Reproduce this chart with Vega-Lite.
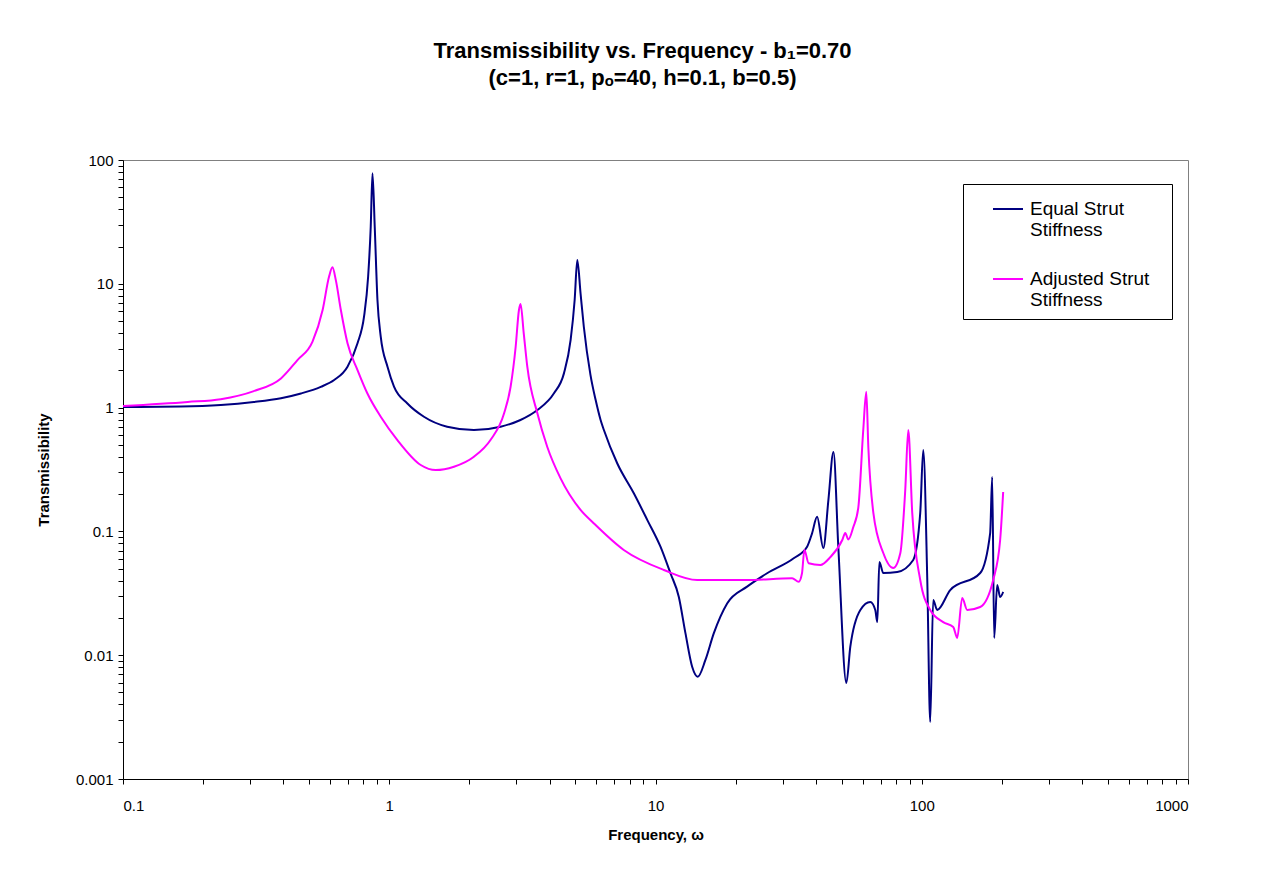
{
  "$schema": "https://vega.github.io/schema/vega-lite/v6.json",
  "width": 1065,
  "height": 619,
  "autosize": {"type": "none"},
  "padding": {"left": 123, "top": 160, "right": 96, "bottom": 97},
  "background": "white",
  "title": {
    "text": ["Transmissibility vs. Frequency - b₁=0.70", "(c=1, r=1, pₒ=40, h=0.1, b=0.5)"],
    "font": "Liberation Sans",
    "fontSize": 22,
    "fontWeight": "bold",
    "color": "black",
    "lineHeight": 27,
    "anchor": "middle",
    "dx": -13,
    "offset": 63
  },
  "config": {
    "view": {"stroke": "#808080", "strokeWidth": 1},
    "axis": {
      "labelFont": "Liberation Sans",
      "titleFont": "Liberation Sans",
      "labelFontSize": 15,
      "titleFontSize": 15,
      "titleFontWeight": "bold",
      "labelColor": "black",
      "titleColor": "black",
      "domainColor": "black",
      "tickColor": "black",
      "grid": false,
      "tickSize": 5
    }
  },
  "data": {
    "values": [
      {"series": "Equal Strut Stiffness", "w": 0.1, "T": 1.01},
      {"series": "Equal Strut Stiffness", "w": 0.165, "T": 1.02},
      {"series": "Equal Strut Stiffness", "w": 0.233, "T": 1.05},
      {"series": "Equal Strut Stiffness", "w": 0.31, "T": 1.11},
      {"series": "Equal Strut Stiffness", "w": 0.392, "T": 1.19},
      {"series": "Equal Strut Stiffness", "w": 0.466, "T": 1.3},
      {"series": "Equal Strut Stiffness", "w": 0.553, "T": 1.47},
      {"series": "Equal Strut Stiffness", "w": 0.621, "T": 1.67},
      {"series": "Equal Strut Stiffness", "w": 0.697, "T": 2.14},
      {"series": "Equal Strut Stiffness", "w": 0.76, "T": 3.31},
      {"series": "Equal Strut Stiffness", "w": 0.804, "T": 5.42},
      {"series": "Equal Strut Stiffness", "w": 0.833, "T": 11.4},
      {"series": "Equal Strut Stiffness", "w": 0.852, "T": 28.9},
      {"series": "Equal Strut Stiffness", "w": 0.865, "T": 78},
      {"series": "Equal Strut Stiffness", "w": 0.882, "T": 28.9},
      {"series": "Equal Strut Stiffness", "w": 0.903, "T": 7.4},
      {"series": "Equal Strut Stiffness", "w": 0.929, "T": 3.74},
      {"series": "Equal Strut Stiffness", "w": 0.985, "T": 2.14},
      {"series": "Equal Strut Stiffness", "w": 1.042, "T": 1.48},
      {"series": "Equal Strut Stiffness", "w": 1.17, "T": 1.08},
      {"series": "Equal Strut Stiffness", "w": 1.35, "T": 0.844},
      {"series": "Equal Strut Stiffness", "w": 1.65, "T": 0.701},
      {"series": "Equal Strut Stiffness", "w": 2.08, "T": 0.659},
      {"series": "Equal Strut Stiffness", "w": 2.62, "T": 0.701},
      {"series": "Equal Strut Stiffness", "w": 3.11, "T": 0.794},
      {"series": "Equal Strut Stiffness", "w": 3.6, "T": 0.956},
      {"series": "Equal Strut Stiffness", "w": 4.15, "T": 1.3},
      {"series": "Equal Strut Stiffness", "w": 4.53, "T": 1.89},
      {"series": "Equal Strut Stiffness", "w": 4.8, "T": 3.52},
      {"series": "Equal Strut Stiffness", "w": 4.97, "T": 7.4},
      {"series": "Equal Strut Stiffness", "w": 5.085, "T": 15.6},
      {"series": "Equal Strut Stiffness", "w": 5.23, "T": 8.38},
      {"series": "Equal Strut Stiffness", "w": 5.38, "T": 4.5},
      {"series": "Equal Strut Stiffness", "w": 5.7, "T": 1.83},
      {"series": "Equal Strut Stiffness", "w": 5.96, "T": 1.15},
      {"series": "Equal Strut Stiffness", "w": 6.22, "T": 0.794},
      {"series": "Equal Strut Stiffness", "w": 6.4, "T": 0.659},
      {"series": "Equal Strut Stiffness", "w": 7.18, "T": 0.355},
      {"series": "Equal Strut Stiffness", "w": 8.29, "T": 0.203},
      {"series": "Equal Strut Stiffness", "w": 9.31, "T": 0.124},
      {"series": "Equal Strut Stiffness", "w": 10.44, "T": 0.0752},
      {"series": "Equal Strut Stiffness", "w": 11.38, "T": 0.0459},
      {"series": "Equal Strut Stiffness", "w": 12.23, "T": 0.0297},
      {"series": "Equal Strut Stiffness", "w": 12.96, "T": 0.015},
      {"series": "Equal Strut Stiffness", "w": 13.73, "T": 0.00807},
      {"series": "Equal Strut Stiffness", "w": 14.41, "T": 0.0067},
      {"series": "Equal Strut Stiffness", "w": 15.4, "T": 0.00915},
      {"series": "Equal Strut Stiffness", "w": 16.55, "T": 0.015},
      {"series": "Equal Strut Stiffness", "w": 18.58, "T": 0.0262},
      {"series": "Equal Strut Stiffness", "w": 22.08, "T": 0.0358},
      {"series": "Equal Strut Stiffness", "w": 26.25, "T": 0.0459},
      {"series": "Equal Strut Stiffness", "w": 33.04, "T": 0.0606},
      {"series": "Equal Strut Stiffness", "w": 37.1, "T": 0.0752},
      {"series": "Equal Strut Stiffness", "w": 38.73, "T": 0.0965},
      {"series": "Equal Strut Stiffness", "w": 40.45, "T": 0.1315},
      {"series": "Equal Strut Stiffness", "w": 42.7, "T": 0.0734},
      {"series": "Equal Strut Stiffness", "w": 44.6, "T": 0.179},
      {"series": "Equal Strut Stiffness", "w": 46.6, "T": 0.438},
      {"series": "Equal Strut Stiffness", "w": 48.6, "T": 0.0748},
      {"series": "Equal Strut Stiffness", "w": 52.1, "T": 0.00596},
      {"series": "Equal Strut Stiffness", "w": 53.9, "T": 0.01165},
      {"series": "Equal Strut Stiffness", "w": 58.8, "T": 0.0232},
      {"series": "Equal Strut Stiffness", "w": 64.1, "T": 0.0269},
      {"series": "Equal Strut Stiffness", "w": 66.9, "T": 0.0232},
      {"series": "Equal Strut Stiffness", "w": 68.1, "T": 0.0185},
      {"series": "Equal Strut Stiffness", "w": 69.3, "T": 0.0566},
      {"series": "Equal Strut Stiffness", "w": 71.7, "T": 0.0461},
      {"series": "Equal Strut Stiffness", "w": 80.9, "T": 0.047},
      {"series": "Equal Strut Stiffness", "w": 92.9, "T": 0.0588},
      {"series": "Equal Strut Stiffness", "w": 98.7, "T": 0.141},
      {"series": "Equal Strut Stiffness", "w": 101.3, "T": 0.455},
      {"series": "Equal Strut Stiffness", "w": 104.9, "T": 0.0405},
      {"series": "Equal Strut Stiffness", "w": 107.6, "T": 0.00289},
      {"series": "Equal Strut Stiffness", "w": 110.4, "T": 0.0279},
      {"series": "Equal Strut Stiffness", "w": 114.3, "T": 0.0232},
      {"series": "Equal Strut Stiffness", "w": 127.9, "T": 0.0336},
      {"series": "Equal Strut Stiffness", "w": 165.8, "T": 0.0461},
      {"series": "Equal Strut Stiffness", "w": 180.7, "T": 0.097},
      {"series": "Equal Strut Stiffness", "w": 183.9, "T": 0.275},
      {"series": "Equal Strut Stiffness", "w": 187.1, "T": 0.0138},
      {"series": "Equal Strut Stiffness", "w": 192.0, "T": 0.0369},
      {"series": "Equal Strut Stiffness", "w": 197.0, "T": 0.0295},
      {"series": "Equal Strut Stiffness", "w": 202.2, "T": 0.0324},
      {"series": "Adjusted Strut Stiffness", "w": 0.1, "T": 1.03},
      {"series": "Adjusted Strut Stiffness", "w": 0.175, "T": 1.11},
      {"series": "Adjusted Strut Stiffness", "w": 0.233, "T": 1.17},
      {"series": "Adjusted Strut Stiffness", "w": 0.31, "T": 1.36},
      {"series": "Adjusted Strut Stiffness", "w": 0.392, "T": 1.72},
      {"series": "Adjusted Strut Stiffness", "w": 0.452, "T": 2.42},
      {"series": "Adjusted Strut Stiffness", "w": 0.515, "T": 3.41},
      {"series": "Adjusted Strut Stiffness", "w": 0.562, "T": 6.14},
      {"series": "Adjusted Strut Stiffness", "w": 0.594, "T": 11.4},
      {"series": "Adjusted Strut Stiffness", "w": 0.612, "T": 13.6},
      {"series": "Adjusted Strut Stiffness", "w": 0.63, "T": 10.7},
      {"series": "Adjusted Strut Stiffness", "w": 0.658, "T": 6.14},
      {"series": "Adjusted Strut Stiffness", "w": 0.697, "T": 3.31},
      {"series": "Adjusted Strut Stiffness", "w": 0.76, "T": 2.01},
      {"series": "Adjusted Strut Stiffness", "w": 0.828, "T": 1.3},
      {"series": "Adjusted Strut Stiffness", "w": 0.929, "T": 0.844},
      {"series": "Adjusted Strut Stiffness", "w": 1.073, "T": 0.547},
      {"series": "Adjusted Strut Stiffness", "w": 1.313, "T": 0.344},
      {"series": "Adjusted Strut Stiffness", "w": 1.494, "T": 0.313},
      {"series": "Adjusted Strut Stiffness", "w": 1.75, "T": 0.333},
      {"series": "Adjusted Strut Stiffness", "w": 2.08, "T": 0.401},
      {"series": "Adjusted Strut Stiffness", "w": 2.4, "T": 0.547},
      {"series": "Adjusted Strut Stiffness", "w": 2.7, "T": 0.899},
      {"series": "Adjusted Strut Stiffness", "w": 2.857, "T": 1.48},
      {"series": "Adjusted Strut Stiffness", "w": 2.984, "T": 3.1},
      {"series": "Adjusted Strut Stiffness", "w": 3.07, "T": 6.14},
      {"series": "Adjusted Strut Stiffness", "w": 3.113, "T": 6.87},
      {"series": "Adjusted Strut Stiffness", "w": 3.2, "T": 3.98},
      {"series": "Adjusted Strut Stiffness", "w": 3.3, "T": 2.14},
      {"series": "Adjusted Strut Stiffness", "w": 3.6, "T": 0.899},
      {"series": "Adjusted Strut Stiffness", "w": 3.92, "T": 0.483},
      {"series": "Adjusted Strut Stiffness", "w": 4.4, "T": 0.268},
      {"series": "Adjusted Strut Stiffness", "w": 5.23, "T": 0.149},
      {"series": "Adjusted Strut Stiffness", "w": 5.87, "T": 0.116},
      {"series": "Adjusted Strut Stiffness", "w": 7.6, "T": 0.0708},
      {"series": "Adjusted Strut Stiffness", "w": 10.75, "T": 0.0488},
      {"series": "Adjusted Strut Stiffness", "w": 14.34, "T": 0.0405},
      {"series": "Adjusted Strut Stiffness", "w": 22.08, "T": 0.0405},
      {"series": "Adjusted Strut Stiffness", "w": 32.6, "T": 0.0418},
      {"series": "Adjusted Strut Stiffness", "w": 34.5, "T": 0.0392},
      {"series": "Adjusted Strut Stiffness", "w": 35.5, "T": 0.0459},
      {"series": "Adjusted Strut Stiffness", "w": 36.24, "T": 0.0708},
      {"series": "Adjusted Strut Stiffness", "w": 37.6, "T": 0.0553},
      {"series": "Adjusted Strut Stiffness", "w": 41.6, "T": 0.0535},
      {"series": "Adjusted Strut Stiffness", "w": 45.4, "T": 0.0621},
      {"series": "Adjusted Strut Stiffness", "w": 50.3, "T": 0.0852},
      {"series": "Adjusted Strut Stiffness", "w": 51.6, "T": 0.097},
      {"series": "Adjusted Strut Stiffness", "w": 53.0, "T": 0.086},
      {"series": "Adjusted Strut Stiffness", "w": 55.3, "T": 0.108},
      {"series": "Adjusted Strut Stiffness", "w": 57.8, "T": 0.157},
      {"series": "Adjusted Strut Stiffness", "w": 60.3, "T": 0.659},
      {"series": "Adjusted Strut Stiffness", "w": 61.9, "T": 1.34},
      {"series": "Adjusted Strut Stiffness", "w": 63.0, "T": 0.481},
      {"series": "Adjusted Strut Stiffness", "w": 65.8, "T": 0.141},
      {"series": "Adjusted Strut Stiffness", "w": 71.7, "T": 0.0669},
      {"series": "Adjusted Strut Stiffness", "w": 78.2, "T": 0.0506},
      {"series": "Adjusted Strut Stiffness", "w": 83.1, "T": 0.0669},
      {"series": "Adjusted Strut Stiffness", "w": 86.7, "T": 0.216},
      {"series": "Adjusted Strut Stiffness", "w": 89.0, "T": 0.659},
      {"series": "Adjusted Strut Stiffness", "w": 92.1, "T": 0.141},
      {"series": "Adjusted Strut Stiffness", "w": 98.7, "T": 0.0405},
      {"series": "Adjusted Strut Stiffness", "w": 107.6, "T": 0.0232},
      {"series": "Adjusted Strut Stiffness", "w": 120.4, "T": 0.0185},
      {"series": "Adjusted Strut Stiffness", "w": 131.3, "T": 0.0169},
      {"series": "Adjusted Strut Stiffness", "w": 135.9, "T": 0.0138},
      {"series": "Adjusted Strut Stiffness", "w": 141.9, "T": 0.029},
      {"series": "Adjusted Strut Stiffness", "w": 148.2, "T": 0.0232},
      {"series": "Adjusted Strut Stiffness", "w": 165.8, "T": 0.0245},
      {"series": "Adjusted Strut Stiffness", "w": 185.5, "T": 0.0405},
      {"series": "Adjusted Strut Stiffness", "w": 197.0, "T": 0.0852},
      {"series": "Adjusted Strut Stiffness", "w": 202.2, "T": 0.208}
    ]
  },
  "mark": {"type": "line", "strokeWidth": 2, "interpolate": "monotone"},
  "encoding": {
    "x": {
      "field": "w",
      "type": "quantitative",
      "scale": {"type": "log", "domain": [0.1, 1000], "nice": false},
      "axis": {
        "title": "Frequency, ω",
        "titlePadding": 14,
        "labelPadding": 14,
        "format": "~g",
        "values": [0.1, 0.2, 0.3, 0.4, 0.5, 0.6, 0.7, 0.8, 0.9, 1, 2, 3, 4, 5, 6, 7, 8, 9, 10, 20, 30, 40, 50, 60, 70, 80, 90, 100, 200, 300, 400, 500, 600, 700, 800, 900, 1000],
        "labelExpr": "abs(log(datum.value)/LN10 - round(log(datum.value)/LN10)) < 0.000001 ? datum.label : ''"
      }
    },
    "y": {
      "field": "T",
      "type": "quantitative",
      "scale": {"type": "log", "domain": [0.001, 100], "nice": false},
      "axis": {
        "title": "Transmissibility",
        "titlePadding": 24,
        "labelPadding": 5,
        "format": "~g",
        "values": [0.001, 0.002, 0.003, 0.004, 0.005, 0.006, 0.007, 0.008, 0.009, 0.01, 0.02, 0.03, 0.04, 0.05, 0.06, 0.07, 0.08, 0.09, 0.1, 0.2, 0.3, 0.4, 0.5, 0.6, 0.7, 0.8, 0.9, 1, 2, 3, 4, 5, 6, 7, 8, 9, 10, 20, 30, 40, 50, 60, 70, 80, 90, 100],
        "labelExpr": "abs(log(datum.value)/LN10 - round(log(datum.value)/LN10)) < 0.000001 ? datum.label : ''"
      }
    },
    "color": {
      "field": "series",
      "type": "nominal",
      "scale": {"domain": ["Equal Strut Stiffness", "Adjusted Strut Stiffness"], "range": ["#000080", "#FF00FF"]},
      "legend": {
        "title": ".",
        "titleOrient": "right",
        "titleColor": "white",
        "titleFontSize": 10,
        "titlePadding": 11,
        "orient": "none",
        "legendX": 840,
        "legendY": 24,
        "direction": "vertical",
        "strokeColor": "black",
        "fillColor": "white",
        "padding": 9,
        "symbolType": "stroke",
        "symbolSize": 900,
        "symbolStrokeWidth": 2,
        "symbolOffset": 20,
        "labelOffset": 6,
        "labelFont": "Liberation Sans",
        "labelFontSize": 19,
        "labelColor": "black",
        "labelLimit": 300,
        "rowPadding": 23,
        "labelExpr": "datum.label == 'Equal Strut Stiffness' ? ['Equal Strut', 'Stiffness'] : ['Adjusted Strut', 'Stiffness']"
      }
    }
  }
}
